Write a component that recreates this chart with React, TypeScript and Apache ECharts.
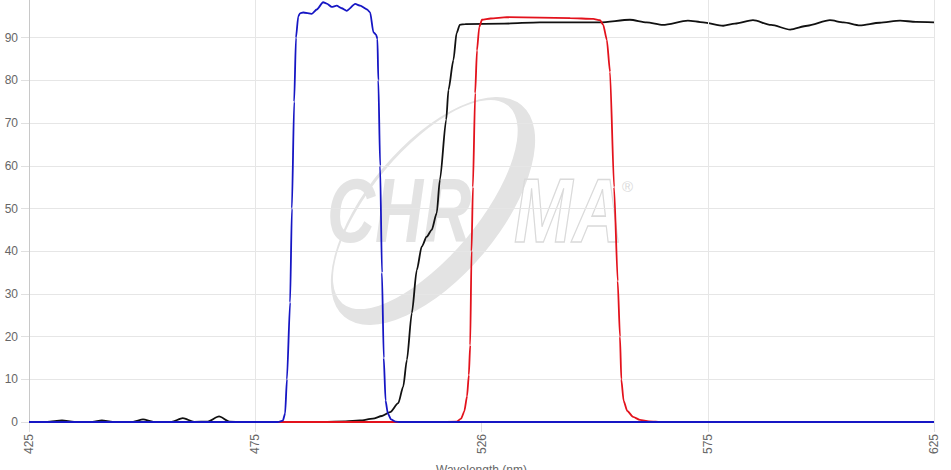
import React, { useEffect, useRef } from "react";
import * as echarts from "echarts";

// ---- data ----
const xTickLabels = ["425", "475", "526", "575", "625"];
const xTickValues = [425, 475, 525, 575, 625];
const xGridValues = [475, 575, 625];

const blueNm = [425, 440, 460, 475, 480, 481.1, 481.6, 482, 482.7, 483.1, 483.6, 484, 484.5, 484.9, 485.6, 487.5, 488.6, 490.0, 490.8, 491.9, 493.0, 494.1, 495.2, 497.1, 498.2, 499.7, 500.4, 501.1, 501.7, 502.0, 502.2, 502.6, 503.0, 503.4, 503.8, 504.3, 505, 506, 507, 540, 580, 625];
const blueT = [0, 0, 0, 0, 0, 0.3, 2, 10, 28, 50, 75, 90, 95, 95.7, 95.9, 95.6, 96.6, 98.3, 98.0, 97.2, 97.5, 96.9, 96.3, 97.9, 97.5, 96.6, 95.9, 91.3, 90.7, 89.7, 80, 60, 35, 15, 5, 2, 0.6, 0.1, 0, 0, 0, 0];

const blackNm = [425, 429, 432.3, 435, 439, 441.1, 443.5, 448, 450.2, 452.5, 456.5, 459, 461.5, 464.5, 467, 469.3, 472, 480, 490, 495, 498.1, 501, 503, 504.8, 506.6, 507.7, 508.5, 509.6, 510.7, 511.8, 512.9, 514, 515.1, 515.8, 517.2, 517.7, 518.8, 519.5, 520.2, 521.4, 530, 537.9, 544, 551.2, 557.8, 561.5, 565.1, 570.6, 574, 578.4, 581, 585, 589, 593.2, 597, 602, 605, 608.6, 613, 617.5, 621, 625];
const blackT = [0, 0.05, 0.35, 0.02, 0.05, 0.4, 0.05, 0.05, 0.6, 0.05, 0.05, 0.9, 0.05, 0.1, 1.3, 0.1, 0, 0, 0.05, 0.15, 0.35, 0.8, 1.4, 2.3, 4.4, 8.3, 14.5, 25.5, 35.6, 41.1, 43.4, 45, 48.9, 56.7, 70.8, 77.8, 84.8, 91.1, 93.0, 93.2, 93.3, 93.6, 93.6, 93.6, 94.2, 93.6, 93.0, 94.0, 93.6, 92.8, 93.3, 94.1, 93.0, 91.9, 92.8, 94.1, 93.6, 92.9, 93.5, 94.0, 93.7, 93.6];

const redNm = [425, 480, 515, 519.5, 520.5, 521.2, 521.8, 522.2, 522.5, 522.8, 523.1, 523.6, 524.0, 524.5, 525.1, 527, 530.6, 537.9, 544.6, 549.7, 551.2, 551.9, 552.7, 553.4, 554.3, 555.1, 555.6, 555.9, 556.4, 557.2, 558.5, 560, 562, 565, 600, 625];
const redT = [0, 0, 0, 0.1, 0.8, 2.5, 6, 11, 18, 40, 55, 77, 87, 92.5, 94.2, 94.5, 94.8, 94.7, 94.6, 94.4, 94.1, 93.0, 89.5, 82, 55, 33, 20, 10, 5, 2.6, 1.2, 0.5, 0.15, 0, 0, 0];

const zip = (xs: number[], ys: number[]) => xs.map((x, i) => [x, ys[i]]);

const swooshD =
  "M -138 0 A 138 66 0 1 0 138 0 A 138 66 0 1 0 -138 0 Z " +
  "M -129 -10 A 129 53 0 1 1 129 -10 A 129 53 0 1 1 -129 -10 Z";

let registered = false;
function registerShapes() {
  if (registered) return;
  registered = true;
  echarts.graphic.registerShape("swoosh", echarts.graphic.extendPath(swooshD, {}) as any);
}

export default function App() {
  const ref = useRef<HTMLDivElement>(null);
  useEffect(() => {
    if (!ref.current) return;
    registerShapes();
    const chart = echarts.init(ref.current, undefined, { renderer: "svg" });
    const font = '"Liberation Sans", Arial, Helvetica, sans-serif';
    const wm = "#e3e3e3";
    chart.setOption({
      animation: false,
      backgroundColor: "#ffffff",
      grid: { left: 29, right: 17, top: -5, bottom: 48, containLabel: false, outerBoundsMode: "none" },
      xAxis: {
        type: "value",
        min: 425,
        max: 625,
        interval: 50,
        name: "Wavelength (nm)",
        nameLocation: "middle",
        nameGap: 42,
        nameTextStyle: { color: "#666", fontSize: 12, fontFamily: font },
        axisLine: { show: true, lineStyle: { color: "#cccccc", width: 1 } },
        axisTick: { show: true, length: 10, lineStyle: { color: "#e0e0e0" } },
        splitLine: { show: false },
        axisLabel: {
          rotate: 90,
          margin: 12,
          color: "#666",
          fontSize: 12,
          fontFamily: font,
          formatter: (v: number) => {
            const i = xTickValues.indexOf(Math.round(v));
            return i >= 0 ? xTickLabels[i] : "";
          },
        },
      },
      yAxis: {
        type: "value",
        min: 0,
        max: 100,
        interval: 10,
        axisLine: { show: true, lineStyle: { color: "#c8c8c8", width: 1 } },
        axisTick: { show: true, length: 8, lineStyle: { color: "#e0e0e0" } },
        splitLine: { show: true, lineStyle: { color: "#e6e6e6", width: 1 } },
        axisLabel: { color: "#666", fontSize: 12, fontFamily: font, margin: 11 },
      },
      graphic: {
        elements: [
          {
            type: "swoosh",
            x: 433,
            y: 211,
            rotation: (50 * Math.PI) / 180,
            z: -1,
            silent: true,
            style: { fill: wm },
          },
          {
            type: "text",
            x: 327,
            y: 211,
            scaleX: 0.74,
            z: -1,
            silent: true,
            style: {
              text: "CHR",
              x: 0,
              y: 0,
              font: 'italic bold 90px "Liberation Sans", Arial, sans-serif',
              fill: wm,
              verticalAlign: "middle",
              align: "left",
            },
          },
          {
            type: "text",
            x: 514,
            y: 211,
            scaleX: 0.78,
            z: -1,
            silent: true,
            style: {
              text: "MA",
              x: 0,
              y: 0,
              font: 'italic bold 90px "Liberation Sans", Arial, sans-serif',
              fill: "none",
              stroke: "#dadada",
              lineWidth: 1.5,
              verticalAlign: "middle",
              align: "left",
            },
          },
          {
            type: "text",
            x: 622,
            y: 186,
            z: -1,
            silent: true,
            style: {
              text: "®",
              x: 0,
              y: 0,
              font: '15px "Liberation Sans", Arial, sans-serif',
              fill: "#dadada",
              verticalAlign: "middle",
            },
          },
        ],
      },
      series: [
        {
          type: "line",
          data: [],
          silent: true,
          z: 1,
          markLine: {
            silent: true,
            symbol: ["none", "none"],
            label: { show: false },
            lineStyle: { color: "#e6e6e6", type: "solid", width: 1 },
            data: xGridValues.map((v) => ({ xAxis: v })),
          },
        },
        {
          name: "Dichroic",
          type: "line",
          data: zip(blackNm, blackT),
          showSymbol: false,
          smooth: 0.25,
          smoothMonotone: "x",
          lineStyle: { color: "#111111", width: 1.8 },
          z: 3,
        },
        {
          name: "Emission",
          type: "line",
          data: zip(redNm, redT),
          showSymbol: false,
          smooth: 0.2,
          smoothMonotone: "x",
          lineStyle: { color: "#e3121c", width: 1.8 },
          z: 4,
        },
        {
          name: "Excitation",
          type: "line",
          data: zip(blueNm, blueT),
          showSymbol: false,
          smooth: 0.2,
          smoothMonotone: "x",
          lineStyle: { color: "#1616c4", width: 1.8 },
          z: 5,
        },
      ],
    });
    return () => chart.dispose();
  }, []);
  return (
    <div
      ref={ref}
      style={{ position: "fixed", left: 0, top: 0, width: 951, height: 470, background: "#fff" }}
    />
  );
}
